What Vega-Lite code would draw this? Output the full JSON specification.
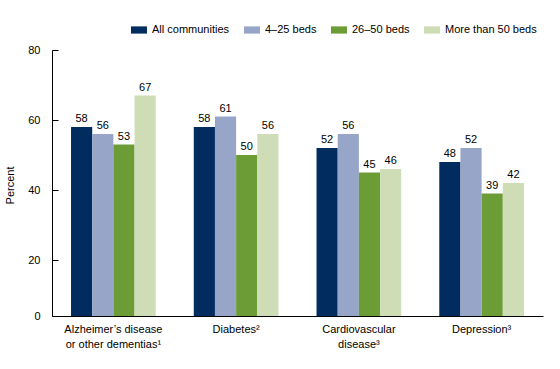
{
  "$schema": "https://vega.github.io/schema/vega-lite/v6.json",
  "width": 491,
  "height": 266,
  "autosize": {"type": "none"},
  "padding": {"left": 52, "top": 50, "right": 17, "bottom": 53},
  "background": "white",
  "config": {"view": {"stroke": null}, "font": "Liberation Sans"},
  "data": {
    "values": [
      {"condition": "Alzheimer’s disease or other dementias¹", "group": "All communities", "value": 58},
      {"condition": "Alzheimer’s disease or other dementias¹", "group": "4–25 beds", "value": 56},
      {"condition": "Alzheimer’s disease or other dementias¹", "group": "26–50 beds", "value": 53},
      {"condition": "Alzheimer’s disease or other dementias¹", "group": "More than 50 beds", "value": 67},
      {"condition": "Diabetes²", "group": "All communities", "value": 58},
      {"condition": "Diabetes²", "group": "4–25 beds", "value": 61},
      {"condition": "Diabetes²", "group": "26–50 beds", "value": 50},
      {"condition": "Diabetes²", "group": "More than 50 beds", "value": 56},
      {"condition": "Cardiovascular disease³", "group": "All communities", "value": 52},
      {"condition": "Cardiovascular disease³", "group": "4–25 beds", "value": 56},
      {"condition": "Cardiovascular disease³", "group": "26–50 beds", "value": 45},
      {"condition": "Cardiovascular disease³", "group": "More than 50 beds", "value": 46},
      {"condition": "Depression³", "group": "All communities", "value": 48},
      {"condition": "Depression³", "group": "4–25 beds", "value": 52},
      {"condition": "Depression³", "group": "26–50 beds", "value": 39},
      {"condition": "Depression³", "group": "More than 50 beds", "value": 42}
    ]
  },
  "encoding": {
    "x": {
      "field": "condition",
      "type": "nominal",
      "sort": null,
      "scale": {"paddingInner": 0.31, "paddingOuter": 0.155},
      "axis": {
        "title": null,
        "labelAngle": 0,
        "ticks": false,
        "domainColor": "black",
        "labelFontSize": 11,
        "labelColor": "black",
        "labelPadding": 7,
        "labelLineHeight": 15,
        "labelExpr": "datum.value == 'Alzheimer’s disease or other dementias¹' ? ['Alzheimer’s disease', 'or other dementias¹'] : datum.value == 'Cardiovascular disease³' ? ['Cardiovascular', 'disease³'] : datum.value"
      }
    },
    "xOffset": {
      "field": "group",
      "type": "nominal",
      "sort": ["All communities", "4–25 beds", "26–50 beds", "More than 50 beds"],
      "scale": {"paddingInner": 0, "paddingOuter": 0}
    },
    "y": {
      "field": "value",
      "type": "quantitative",
      "scale": {"domain": [0, 20, 80], "range": [266, 210, 0]},
      "axis": {
        "values": [0, 20, 40, 60, 80],
        "grid": false,
        "tickSize": -6,
        "tickColor": "black",
        "domainColor": "black",
        "labelFontSize": 11,
        "labelColor": "black",
        "labelPadding": 18,
        "title": "Percent",
        "titleFontSize": 11,
        "titleFontWeight": "normal",
        "titleColor": "black",
        "titleX": -37,
        "titleY": 135
      }
    }
  },
  "layer": [
    {
      "mark": {"type": "bar"},
      "encoding": {
        "color": {
          "field": "group",
          "type": "nominal",
          "scale": {
            "domain": ["All communities", "4–25 beds", "26–50 beds", "More than 50 beds"],
            "range": ["#002C5F", "#96A5C8", "#6B9C36", "#CEDDB6"]
          },
          "legend": {
            "title": null,
            "orient": "none",
            "direction": "horizontal",
            "legendX": 79,
            "legendY": -28,
            "symbolType": "M-1,-0.45H1V0.45H-1Z",
            "symbolSize": 256,
            "symbolStrokeWidth": 0,
            "labelFontSize": 11,
            "labelColor": "black",
            "labelOffset": 5,
            "columnPadding": 14
          }
        }
      }
    },
    {
      "mark": {"type": "text", "baseline": "bottom", "dy": -3, "fontSize": 11, "color": "black"},
      "encoding": {"text": {"field": "value", "type": "quantitative"}}
    }
  ]
}
